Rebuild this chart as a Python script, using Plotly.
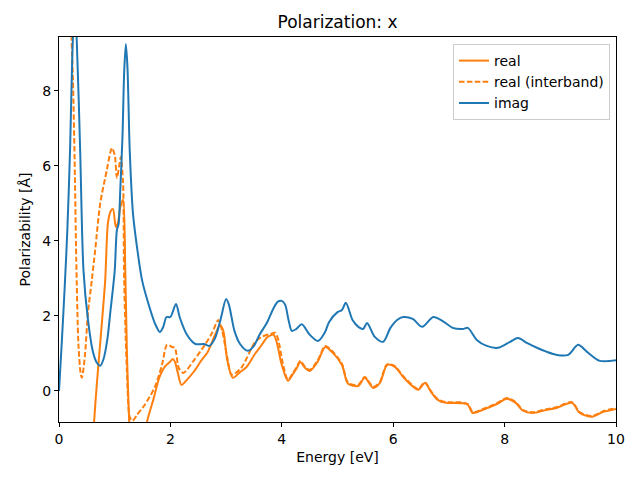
import plotly.graph_objects as go

# ---- data ----
imag_x = [0, 0.05, 0.1, 0.15, 0.2, 0.24, 0.28, 0.32, 0.38, 0.44, 0.52, 0.61, 0.68, 0.74, 0.8, 0.87, 0.92, 1.0,
          1.04, 1.07, 1.1, 1.14, 1.17, 1.2, 1.23, 1.27, 1.33, 1.4, 1.49, 1.6, 1.72, 1.81, 1.87, 1.93, 2.0, 2.1,
          2.17, 2.3, 2.45, 2.6, 2.7, 2.8, 2.9, 3.0, 3.05, 3.15, 3.25, 3.39, 3.5, 3.6, 3.73, 3.85, 3.93, 4.0,
          4.06, 4.12, 4.18, 4.26, 4.36, 4.5, 4.65, 4.77, 4.85, 5.0, 5.08, 5.15, 5.27, 5.38, 5.46, 5.53, 5.67,
          5.82, 5.95, 6.07, 6.18, 6.35, 6.52, 6.72, 6.88, 7.07, 7.25, 7.34, 7.5, 7.68, 7.88, 8.1, 8.24, 8.4,
          8.58, 8.76, 8.94, 9.14, 9.32, 9.48, 9.71, 10.0]
imag_y = [0.0, 1.3, 2.7, 4.3, 6.5, 9.0, 10.3, 9.3, 6.4, 3.2, 1.9, 1.04, 0.75, 0.67, 0.85, 1.4, 2.08, 3.2,
          4.3, 4.45, 5.36, 6.8, 8.5, 9.25, 8.6, 6.4, 4.7, 3.84, 2.96, 2.35, 1.81, 1.57, 1.7, 1.97, 1.97, 2.32,
          1.95, 1.49, 1.25, 1.25, 1.2, 1.4, 1.9, 2.45, 2.3, 1.6, 1.25, 1.07, 1.2, 1.5, 1.81, 2.2, 2.38, 2.4,
          2.3, 1.9, 1.6, 1.65, 1.78, 1.5, 1.33, 1.55, 1.84, 2.1, 2.16, 2.35, 1.89, 1.7, 1.65, 1.81, 1.44,
          1.31, 1.68, 1.89, 1.97, 1.92, 1.71, 1.97, 1.87, 1.68, 1.65, 1.68, 1.36, 1.2, 1.15, 1.31, 1.41, 1.28,
          1.15, 1.04, 0.96, 0.96, 1.23, 1.04, 0.8, 0.82]

real_x = [0.2, 0.4, 0.5, 0.58, 0.63, 0.68, 0.73, 0.78, 0.83, 0.88, 0.93, 0.97, 1.02, 1.06, 1.1, 1.15, 1.19,
          1.22, 1.26, 1.3, 1.38, 1.48, 1.58, 1.7, 1.8, 1.9, 1.99, 2.04, 2.08, 2.13, 2.2, 2.3, 2.43, 2.55,
          2.67, 2.8, 2.89, 2.95, 3.02, 3.12, 3.25, 3.37, 3.52, 3.65, 3.73, 3.8, 3.85, 3.9, 4.0, 4.11, 4.2,
          4.27, 4.33, 4.42, 4.5, 4.64, 4.78, 4.9, 5.08, 5.19, 5.37, 5.49, 5.64, 5.76, 5.89, 6.03, 6.18, 6.36,
          6.45, 6.57, 6.68, 6.8, 6.95, 7.07, 7.25, 7.34, 7.43, 7.6, 7.86, 8.04, 8.2, 8.33, 8.51, 8.69, 8.94,
          9.21, 9.35, 9.57, 9.77, 10.0]
real_y = [-40.0, -10.0, -5.0, -2.3, -0.83, 0.2, 1.1, 2.0, 2.96, 4.5, 4.8, 4.85, 4.37, 4.5, 4.9, 5.1, 3.2,
          1.0, -0.83, -2.2, -2.5, -1.8, -0.83, -0.2, 0.35, 0.65, 0.77, 0.85, 0.78, 0.5, 0.16, 0.3, 0.53, 0.8,
          1.04, 1.49, 1.76, 1.6, 0.83, 0.35, 0.5, 0.64, 0.99, 1.25, 1.42, 1.48, 1.5, 1.35, 0.69, 0.27, 0.45,
          0.61, 0.77, 0.61, 0.53, 0.77, 1.17, 1.04, 0.69, 0.19, 0.13, 0.35, 0.08, 0.21, 0.69, 0.64, 0.37, 0.11,
          0.03, 0.21, -0.03, -0.24, -0.32, -0.32, -0.33, -0.37, -0.59, -0.51, -0.35, -0.21, -0.32, -0.53,
          -0.59, -0.53, -0.45, -0.32, -0.59, -0.69, -0.56, -0.48]

inter_x = [0.0, 0.1, 0.18, 0.22, 0.25, 0.28, 0.31, 0.35, 0.39, 0.41, 0.44, 0.47, 0.52, 0.59, 0.65, 0.74,
           0.86, 0.92, 0.95, 1.0, 1.04, 1.08, 1.11, 1.15, 1.17, 1.22, 1.27, 1.32, 1.4, 1.54, 1.72, 1.85, 1.94,
           2.03, 2.08, 2.15, 2.23, 2.43, 2.62, 2.75, 2.86, 2.93, 3.02, 3.1, 3.27, 3.52, 3.65, 3.8, 3.88, 3.93,
           4.02, 4.11, 4.2, 4.27, 4.33, 4.42, 4.5, 4.64, 4.78, 4.9, 5.08, 5.19, 5.37, 5.49, 5.64, 5.76, 5.89,
           6.03, 6.18, 6.36, 6.45, 6.57, 6.68, 6.8, 6.95, 7.07, 7.25, 7.34, 7.43, 7.6, 7.86, 8.04, 8.2, 8.33,
           8.51, 8.69, 8.94, 9.21, 9.35, 9.57, 9.77, 10.0]
inter_y = [13.0, 14.5, 13.0, 9.7, 8.3, 6.2, 3.5, 1.2, 0.45, 0.35, 0.6, 1.01, 2.08, 2.96, 3.76, 5.0, 5.9,
           6.35, 6.48, 6.3, 5.68, 6.0, 6.24, 5.55, 2.96, 0.5, -0.69, -0.8, -0.64, -0.37, 0.1, 0.7, 1.23, 1.17,
           1.15, 0.61, 0.48, 0.83, 1.23, 1.55, 1.89, 1.6, 0.9, 0.43, 0.61, 1.3, 1.45, 1.52, 1.55, 1.4, 0.72,
           0.3, 0.48, 0.64, 0.8, 0.64, 0.56, 0.8, 1.2, 1.07, 0.72, 0.22, 0.16, 0.37, 0.11, 0.23, 0.71, 0.66,
           0.39, 0.13, 0.05, 0.23, -0.01, -0.22, -0.3, -0.3, -0.31, -0.35, -0.57, -0.49, -0.33, -0.19, -0.3,
           -0.51, -0.57, -0.51, -0.43, -0.3, -0.57, -0.67, -0.54, -0.46]

x_ticks = [0, 2, 4, 6, 8, 10]
y_ticks = [0, 2, 4, 6, 8]

ORANGE = "#ff7f0e"
BLUE = "#1f77b4"
FONT = "DejaVu Sans"

# the page body adds an 8px offset, so the figure is 632x472 drawn at (8, 8)
W, H = 632, 472

fig = go.Figure()
fig.add_trace(go.Scatter(x=real_x, y=real_y, mode="lines", name="real",
                         line=dict(color=ORANGE, width=2, shape="spline", smoothing=0.8)))
fig.add_trace(go.Scatter(x=inter_x, y=inter_y, mode="lines", name="real (interband)",
                         line=dict(color=ORANGE, width=2, dash="5.5px,2.4px", shape="spline", smoothing=0.8)))
fig.add_trace(go.Scatter(x=imag_x, y=imag_y, mode="lines", name="imag",
                         line=dict(color=BLUE, width=2, shape="spline", smoothing=0.8)))

axis_common = dict(showline=True, mirror=True, linecolor="black", linewidth=1,
                   ticks="outside", ticklen=4, tickwidth=1, tickcolor="black",
                   showgrid=False, zeroline=False, automargin=False,
                   tickfont=dict(family=FONT, size=14, color="black"))

fig.update_layout(
    width=W, height=H,
    paper_bgcolor="white", plot_bgcolor="white",
    margin=dict(l=51, r=24, t=29, b=58, autoexpand=False),
    title=dict(text="Polarization: x", x=0.5, xref="paper", xanchor="center",
               y=1 - 14 / H, yanchor="middle",
               font=dict(family=FONT, size=17, color="black")),
    xaxis=dict(range=[0, 10], tickvals=x_ticks, ticktext=[str(t) for t in x_ticks],
               title=dict(text="Energy [eV]", font=dict(family=FONT, size=14, color="black"), standoff=6),
               **axis_common),
    yaxis=dict(range=[-0.83, 9.44], tickvals=y_ticks, ticktext=[str(t) for t in y_ticks],
               title=dict(text="Polarizability [Å]", font=dict(family=FONT, size=14, color="black"), standoff=8),
               **axis_common),
    legend=dict(x=1.0 - 6 / 557, y=1.0 - 7 / 385, xanchor="right", yanchor="top",
                bgcolor="rgba(255,255,255,0.8)", bordercolor="#cccccc", borderwidth=1,
                font=dict(family=FONT, size=14, color="black"),
                tracegroupgap=0, itemwidth=30),
    showlegend=True,
)

fig.write_html("out.html")
